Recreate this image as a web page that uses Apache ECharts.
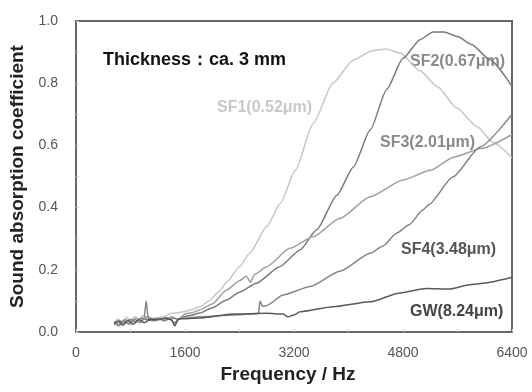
<!DOCTYPE html>
<html>
<head>
<meta charset="utf-8">
<script src="https://cdn.jsdelivr.net/npm/echarts@6/dist/echarts.min.js"></script>
<style>
html,body{margin:0;padding:0;background:#fff;}
#chart{width:532px;height:392px;}
</style>
</head>
<body>
<div id="chart"></div>
<script>
// ---- data ----
const seriesNames = ['SF1(0.52μm)', 'SF2(0.67μm)', 'SF3(2.01μm)', 'SF4(3.48μm)', 'GW(8.24μm)'];

const sf1Freq = [560, 620, 680, 740, 800, 860, 920, 980, 1050, 1120, 1200, 1300, 1400, 1500, 1600, 1700, 1820, 1950, 2100, 2210, 2400, 2550, 2800, 3000, 3220, 3480, 3770, 4070, 4360, 4550, 4760, 5050, 5300, 5590, 5890, 6120, 6400];
const sf1Abs  = [0.030, 0.042, 0.028, 0.048, 0.035, 0.050, 0.038, 0.052, 0.045, 0.040, 0.046, 0.050, 0.060, 0.062, 0.066, 0.072, 0.081, 0.100, 0.130, 0.160, 0.210, 0.254, 0.339, 0.414, 0.520, 0.670, 0.800, 0.875, 0.905, 0.910, 0.897, 0.840, 0.790, 0.720, 0.660, 0.610, 0.560];

const sf2Freq = [560, 640, 720, 800, 880, 960, 1050, 1150, 1250, 1350, 1450, 1550, 1650, 1820, 2000, 2210, 2400, 2650, 2990, 3290, 3530, 3830, 4070, 4320, 4560, 4800, 5050, 5240, 5400, 5600, 5800, 6080, 6400];
const sf2Abs  = [0.025, 0.035, 0.028, 0.040, 0.032, 0.044, 0.040, 0.036, 0.042, 0.046, 0.030, 0.048, 0.052, 0.061, 0.078, 0.103, 0.128, 0.157, 0.210, 0.264, 0.328, 0.440, 0.530, 0.650, 0.780, 0.880, 0.940, 0.965, 0.965, 0.950, 0.925, 0.875, 0.790];

const sf3Freq = [560, 640, 720, 800, 880, 960, 1040, 1120, 1200, 1300, 1400, 1500, 1600, 1700, 1820, 2000, 2210, 2400, 2500, 2560, 2620, 2800, 3140, 3480, 3870, 4320, 4800, 5200, 5550, 5950, 6400];
const sf3Abs  = [0.035, 0.025, 0.040, 0.030, 0.045, 0.035, 0.050, 0.042, 0.045, 0.035, 0.050, 0.040, 0.058, 0.062, 0.071, 0.090, 0.135, 0.165, 0.180, 0.160, 0.185, 0.210, 0.269, 0.306, 0.365, 0.435, 0.489, 0.520, 0.563, 0.590, 0.635];

const sf4Freq = [560, 630, 700, 780, 860, 940, 1000, 1030, 1060, 1120, 1200, 1300, 1400, 1500, 1600, 1820, 2000, 2300, 2600, 2680, 2700, 2740, 2800, 3040, 3440, 3870, 4320, 4500, 4710, 4890, 5090, 5180, 5530, 5930, 6400];
const sf4Abs  = [0.030, 0.020, 0.038, 0.025, 0.040, 0.030, 0.045, 0.100, 0.045, 0.040, 0.042, 0.038, 0.044, 0.042, 0.045, 0.049, 0.051, 0.055, 0.058, 0.060, 0.100, 0.082, 0.085, 0.119, 0.146, 0.195, 0.253, 0.276, 0.318, 0.345, 0.392, 0.410, 0.498, 0.595, 0.700];

const gwFreq = [560, 620, 690, 760, 840, 920, 1000, 1100, 1200, 1300, 1400, 1450, 1500, 1600, 1820, 2300, 2800, 3040, 3110, 3200, 3290, 3770, 4320, 4740, 5140, 5475, 5780, 5980, 6400];
const gwAbs  = [0.025, 0.035, 0.022, 0.038, 0.025, 0.040, 0.030, 0.042, 0.040, 0.044, 0.040, 0.020, 0.042, 0.043, 0.045, 0.058, 0.060, 0.058, 0.049, 0.055, 0.065, 0.081, 0.097, 0.125, 0.140, 0.138, 0.152, 0.157, 0.176];

const xTicks = [0, 1600, 3200, 4800, 6400];
const yTicks = ['0.0', '0.2', '0.4', '0.6', '0.8', '1.0'];

// ---- chart ----
const FONT = '"Liberation Sans", Arial, sans-serif';
const zip = (f, v) => f.map((x, i) => [x, v[i]]);
const lineColors = ['#c6c6c6', '#7a7a7a', '#a0a0a0', '#858585', '#5a5a5a'];
const dataSets = [zip(sf1Freq, sf1Abs), zip(sf2Freq, sf2Abs), zip(sf3Freq, sf3Abs), zip(sf4Freq, sf4Abs), zip(gwFreq, gwAbs)];

const chart = echarts.init(document.getElementById('chart'), null, {renderer: 'canvas'});
chart.setOption({
  animation: false,
  backgroundColor: '#fff',
  grid: {left: 76, right: 20, top: 21, bottom: 60, show: true, borderColor: '#666', borderWidth: 2,
    backgroundColor: 'transparent', containLabel: false, outerBoundsMode: 'none'},
  xAxis: {
    type: 'value', min: 0, max: 6400, interval: 800,
    name: 'Frequency / Hz', nameLocation: 'middle', nameGap: 24,
    nameTextStyle: {fontFamily: FONT, fontSize: 19, fontWeight: 'bold', color: '#222', padding: [0, 12, 0, 0]},
    axisLine: {show: true, lineStyle: {color: '#666', width: 2}},
    axisTick: {show: true, inside: true, length: 3, lineStyle: {color: '#ccc'}},
    axisLabel: {margin: 14, fontFamily: FONT, fontSize: 14, color: '#555',
      formatter: v => xTicks.indexOf(v) >= 0 ? String(v) : ''},
    splitLine: {show: false}
  },
  yAxis: {
    type: 'value', min: 0, max: 1, interval: 0.1,
    name: 'Sound absorption coefficient', nameLocation: 'middle', nameGap: 44,
    nameTextStyle: {fontFamily: FONT, fontSize: 19, fontWeight: 'bold', color: '#222'},
    axisLine: {show: true, lineStyle: {color: '#666', width: 2}},
    axisTick: {show: true, inside: true, length: 3, lineStyle: {color: '#ccc'}},
    axisLabel: {margin: 18, fontFamily: FONT, fontSize: 14, color: '#555',
      formatter: v => { const s = v.toFixed(1); return yTicks.indexOf(s) >= 0 ? s : ''; }},
    splitLine: {show: false}
  },
  series: dataSets.map((d, i) => ({
    name: seriesNames[i], type: 'line', data: d, showSymbol: false, symbol: 'none',
    lineStyle: {color: lineColors[i], width: 1.5}, smooth: 0.2, smoothMonotone: 'x'
  })),
  graphic: [
    {type: 'text', x: 103, y: 60, style: {text: 'Thickness：ca. 3 mm', font: 'bold 18px ' + FONT, fill: '#111', verticalAlign: 'middle'}},
    {type: 'text', x: 217, y: 108, style: {text: seriesNames[0], font: 'bold 16px ' + FONT, fill: '#c8c8c8', verticalAlign: 'middle'}},
    {type: 'text', x: 410, y: 62, style: {text: seriesNames[1], font: 'bold 16px ' + FONT, fill: '#8a8a8a', verticalAlign: 'middle'}},
    {type: 'text', x: 380, y: 143, style: {text: seriesNames[2], font: 'bold 16px ' + FONT, fill: '#8a8a8a', verticalAlign: 'middle'}},
    {type: 'text', x: 401, y: 250, style: {text: seriesNames[3], font: 'bold 16px ' + FONT, fill: '#555', verticalAlign: 'middle'}},
    {type: 'text', x: 410, y: 312, style: {text: seriesNames[4], font: 'bold 16px ' + FONT, fill: '#444', verticalAlign: 'middle'}}
  ]
});
</script>
</body>
</html>
